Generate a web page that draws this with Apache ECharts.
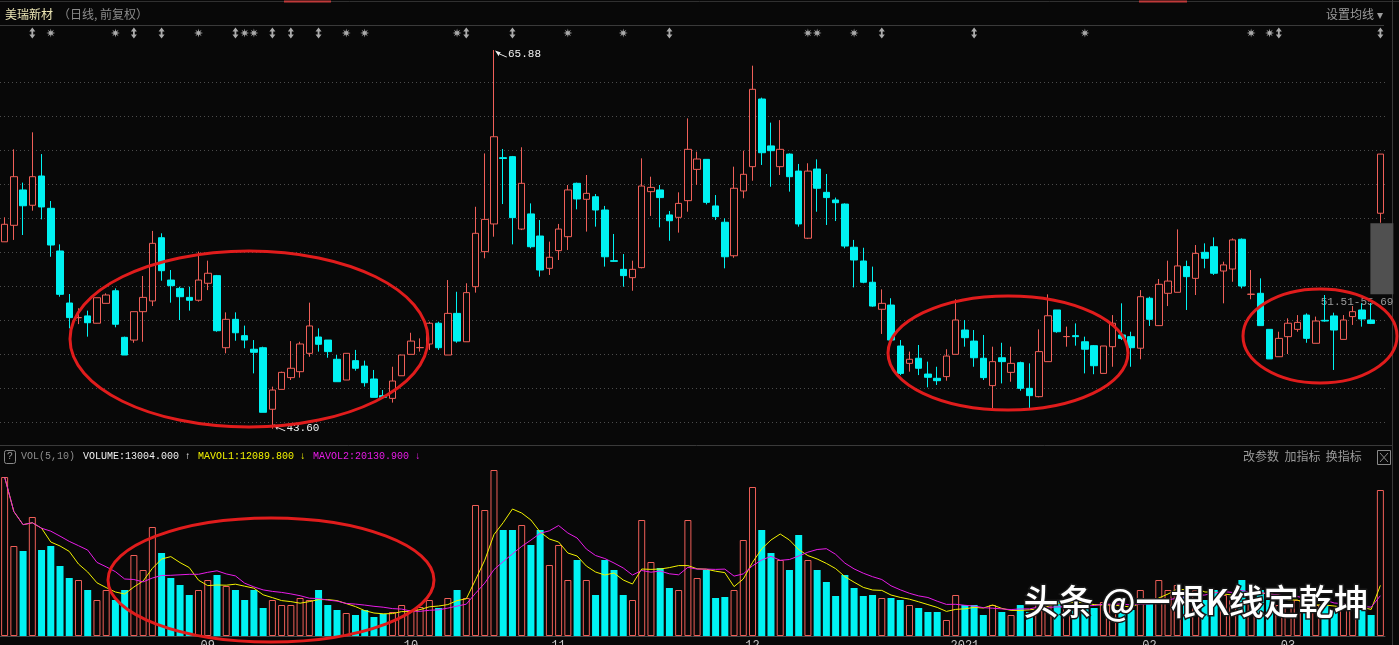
<!DOCTYPE html>
<html><head><meta charset="utf-8">
<script src="https://cdn.jsdelivr.net/npm/echarts@6/dist/echarts.min.js"></script>
<style>html,body{margin:0;padding:0;background:#080808;}#c{width:1399px;height:645px;}</style>
</head><body><div id="c"></div>
<script>
// ---- trading days (month -> day list) ----
const monthDays = [
  ['2020-07', '31'],
  ['2020-08', '03 04 05 06 07 10 11 12 13 14 17 18 19 20 21 24 25 26 27 28 31'],
  ['2020-09', '01 02 03 04 07 08 09 10 11 14 15 16 17 18 21 22 23 24 25 28 29 30'],
  ['2020-10', '09 12 13 14 15 16 19 20 21 22 23 26 27 28 29 30'],
  ['2020-11', '02 03 04 05 06 09 10 11 12 13 16 17 18 19 20 23 24 25 26 27 30'],
  ['2020-12', '01 02 03 04 07 08 09 10 11 14 15 16 17 18 21 22 23 24 25 28 29 30 31'],
  ['2021-01', '04 05 06 07 08 11 12 13 14 15 18 19 20 21 22 25 26 27 28 29'],
  ['2021-02', '01 02 03 04 05 08 09 10 18 19 22 23 24 25 26'],
  ['2021-03', '01 02 03 04 05 08 09 10 11 12 15']
];
const dates = [];
monthDays.forEach(([m, ds]) => ds.split(' ').forEach(d => dates.push(m + '-' + d)));

// ---- tick labels on the date axis ----
const tickLabels = {
  '2020-09-01': '09', '2020-10-09': '10', '2020-11-02': '11', '2020-12-01': '12',
  '2021-01-04': '2021', '2021-02-01': '02', '2021-03-01': '03'
};

// ---- OHLC ----
const opens = [
54.60,55.57,57.65,56.75,58.47,56.57,54.06,51.00,50.14,50.24,49.81,50.98,51.72,48.98,48.82,50.49,51.12,54.84,52.35,51.86,
51.33,51.16,52.16,52.61,48.37,50.04,49.08,48.28,48.37,44.75,45.92,46.61,46.96,48.04,49.00,48.82,47.69,46.47,47.61,47.29,
46.53,45.55,45.39,46.72,47.98,48.37,48.59,49.81,47.94,50.39,48.72,51.96,54.02,55.65,59.55,59.61,55.35,56.24,54.94,53.04,
54.08,54.90,58.04,57.10,57.25,56.47,53.49,52.98,52.49,53.08,57.55,57.65,56.18,56.04,57.02,58.86,59.45,56.71,55.75,53.78,
57.59,59.02,63.00,60.24,59.02,59.76,58.76,54.81,58.88,57.51,57.06,56.82,54.28,53.47,52.22,50.63,50.88,48.47,47.45,47.75,
46.82,46.57,46.67,47.98,49.41,48.76,47.75,46.14,47.78,46.92,47.49,45.98,45.49,47.55,50.59,49.02,49.08,48.72,48.49,46.86,
48.43,49.12,49.02,48.34,51.28,49.67,51.57,51.63,53.14,52.45,53.98,54.31,52.88,53.00,54.75,51.51,51.57,49.45,47.84,49.02,
49.45,50.29,48.63,49.98,50.24,48.86,50.20,50.59,50.00,56.28];
const closes = [
55.63,58.43,56.72,58.43,56.65,54.41,51.51,50.14,50.14,49.84,51.31,51.47,49.75,47.94,50.49,51.33,54.51,52.90,52.02,51.37,
51.16,52.35,52.75,49.37,50.04,49.25,48.82,48.10,44.57,45.88,46.92,47.16,48.59,49.65,48.57,48.14,46.37,48.04,47.16,46.31,
45.45,45.45,46.41,47.94,48.76,48.38,49.81,48.37,50.39,48.76,51.61,55.10,55.92,60.78,59.50,56.02,58.04,54.31,52.94,53.69,
55.35,57.65,57.12,57.45,56.47,53.72,53.45,52.61,52.98,57.88,57.80,57.20,55.84,56.86,60.04,59.47,56.92,56.08,53.72,57.75,
58.57,63.57,59.84,59.96,60.04,58.43,55.65,58.76,57.75,57.20,56.90,54.35,53.53,52.22,50.82,50.98,48.82,46.86,47.69,47.16,
46.63,46.43,47.88,50.00,48.96,47.78,46.61,47.55,47.55,47.45,45.98,45.55,48.14,50.25,49.31,49.03,49.02,48.28,47.31,48.47,
49.81,48.92,48.37,51.37,50.04,52.10,52.29,53.18,52.55,53.92,53.63,52.75,53.24,54.71,52.00,51.52,49.67,47.71,48.92,49.81,
49.86,48.92,49.94,49.94,49.41,50.00,50.49,50.06,49.80,59.76];
const lows = [
54.60,54.71,55.00,56.43,55.92,53.72,51.37,49.51,49.76,49.02,49.80,50.98,49.57,47.94,48.66,48.72,50.82,52.31,51.02,50.00,
50.55,51.08,51.76,49.31,48.04,48.78,48.34,46.86,44.57,43.60,45.92,46.47,46.61,47.84,48.14,47.78,46.37,46.47,47.02,46.08,
45.45,45.37,45.14,46.72,47.98,48.14,48.24,48.24,47.94,48.66,48.72,51.61,53.63,54.90,56.82,54.45,55.29,54.22,52.55,52.65,
53.53,54.12,56.51,55.20,55.49,53.14,53.43,51.96,51.72,53.04,56.12,55.45,54.66,55.14,56.37,57.94,56.80,55.88,53.04,53.66,
57.16,58.19,59.12,57.84,58.53,57.55,55.49,54.76,56.37,55.59,55.82,54.22,51.92,52.16,50.78,49.18,48.72,46.76,46.96,46.76,
46.04,46.18,46.43,47.98,48.43,47.25,46.47,44.67,46.27,46.37,45.84,44.71,45.45,47.55,49.25,48.43,48.49,46.86,46.81,46.86,
47.25,48.82,47.25,47.69,49.65,49.65,50.82,51.63,50.59,51.47,53.04,52.65,50.98,52.25,51.86,51.22,49.65,47.71,47.84,48.00,
49.31,48.66,48.63,49.90,47.06,48.86,49.71,49.61,49.76,55.72];
const highs = [
56.04,60.04,58.08,61.04,59.76,57.00,54.45,51.53,50.69,50.55,51.31,51.57,51.86,49.02,50.50,52.59,55.24,55.10,52.94,51.96,
51.96,54.02,53.49,52.65,50.45,50.45,49.67,48.82,48.43,46.08,46.96,48.76,48.72,51.02,49.51,48.82,47.94,48.04,48.24,47.61,
47.06,45.88,47.25,47.94,49.25,48.92,49.90,49.90,52.35,51.66,52.16,56.66,59.80,65.88,60.06,59.65,60.16,56.86,55.88,54.61,
55.65,57.94,58.08,58.53,57.41,56.71,55.06,53.88,53.49,59.51,58.43,57.94,56.41,57.51,61.86,59.90,59.45,57.35,55.98,59.02,
59.96,64.96,63.08,61.61,61.76,59.80,59.18,59.22,59.45,58.59,57.20,56.86,54.71,54.25,53.14,51.80,51.28,48.82,48.14,48.53,
47.55,47.25,48.28,51.22,50.00,49.41,49.12,48.43,48.66,48.43,47.55,47.45,49.45,51.51,50.59,49.61,49.80,49.02,48.53,48.47,
50.29,50.98,49.31,51.76,51.37,52.41,53.49,55.33,53.49,54.41,54.51,54.86,53.43,54.80,54.80,52.94,52.45,49.45,49.31,50.10,
50.29,50.39,50.20,51.47,50.43,50.29,50.82,50.98,51.00,59.76];

// ---- volume (万股) ----
const volumes = [
1113,630,595,833,602,630,490,406,392,322,252,322,252,322,567,462,763,581,406,357,
287,322,392,427,350,322,252,322,196,252,217,217,266,252,322,217,182,161,147,182,
133,154,168,217,182,203,252,196,266,322,266,917,882,1162,742,742,777,637,742,497,
637,392,532,392,287,532,462,287,252,812,518,476,336,322,812,406,462,266,273,322,
672,1043,742,581,532,462,707,532,462,378,280,427,336,280,287,266,266,252,217,196,
168,168,112,287,217,217,147,217,168,147,217,168,252,252,252,217,217,217,196,238,
217,182,182,322,252,392,322,357,287,322,252,322,287,252,392,252,322,252,217,217,
252,182,217,217,182,203,217,182,147,1022];

// ---- info markers (candle indices) ----
const starIdx = [5,12,21,26,27,37,39,49,61,67,87,88,92,117,135,137];
const arrowIdx = [3,14,17,25,29,31,34,50,55,72,95,105,138,149];

// ---- highlighted price range ----
const rangeLow = 51.51, rangeHigh = 55.69;

// ---- header texts ----
const volHeader = {vol: 'VOLUME:13004.000', ma1: 'MAVOL1:12089.800', ma2: 'MAVOL2:20130.900'};

const RED = '#ef5f58', CYAN = '#00f2f2';
const MONO = '"Liberation Mono","DejaVu Sans Mono",monospace';
const CJK = '"Noto Sans CJK SC","Noto Sans",sans-serif';

const isUp = i => closes[i] > opens[i] || (closes[i] === opens[i] && (i === 0 || closes[i - 1] <= closes[i]));
const candleData = opens.map((o, i) => [o, closes[i], lows[i], highs[i]]);
const volData = volumes.map((v, i) => ({
  value: v,
  itemStyle: isUp(i) ? {color: '#080808', borderColor: RED, borderWidth: 1} : {color: CYAN, borderWidth: 0}
}));
function ma(n) {
  return volumes.map((v, i) => {
    const s = Math.max(0, i - n + 1);
    let sum = 0;
    for (let k = s; k <= i; k++) sum += volumes[k];
    return +(sum / (i - s + 1)).toFixed(2);
  });
}
function starPath() {
  const pts = [];
  for (let k = 0; k < 16; k++) {
    const r = k % 2 ? 1.9 : 5, a = k * Math.PI / 8;
    pts.push((5 + r * Math.cos(a)).toFixed(2) + ',' + (5 + r * Math.sin(a)).toFixed(2));
  }
  return 'path://M' + pts.join(' L') + ' Z';
}
const ARROW = 'path://M5,0 L10,5 L6.5,5 L6.5,9 L10,9 L5,14 L0,9 L3.5,9 L3.5,5 L0,5 Z';

const chart = echarts.init(document.getElementById('c'), null, {renderer: 'canvas'});
const gridL = 0, gridR = 14;
chart.setOption({
  backgroundColor: '#080808',
  animation: false,
  grid: [
    {left: gridL, right: gridR, top: 48, height: 408, outerBoundsMode: 'none', containLabel: false},
    {left: gridL, right: gridR, top: 26, height: 14, outerBoundsMode: 'none', containLabel: false},
    {left: gridL, right: gridR, top: 468, height: 168, outerBoundsMode: 'none', containLabel: false}
  ],
  xAxis: [
    {type: 'category', gridIndex: 0, data: dates, boundaryGap: true, show: false},
    {type: 'category', gridIndex: 1, data: dates, boundaryGap: true, show: false},
    {type: 'category', gridIndex: 2, data: dates, boundaryGap: true,
     axisLine: {show: true, lineStyle: {color: '#4a4a4a'}}, axisTick: {show: false},
     axisLabel: {
       interval: (idx, val) => tickLabels[val] !== undefined,
       formatter: val => tickLabels[val] || '',
       color: '#c8c8c8', fontSize: 12, margin: 4, fontFamily: MONO
     },
     splitLine: {show: false}}
  ],
  yAxis: [
    {type: 'value', gridIndex: 0, min: 42, max: 66, interval: 2, scale: true,
     axisLabel: {show: false}, axisLine: {show: false}, axisTick: {show: false},
     splitLine: {show: true, showMinLine: false, showMaxLine: false,
                 lineStyle: {color: '#4c4c4c', type: [1, 3], width: 1}}},
    {type: 'value', gridIndex: 1, min: 0, max: 1, show: false},
    {type: 'value', gridIndex: 2, min: 0, max: 1176, show: false}
  ],
  series: [
    {
      type: 'custom', xAxisIndex: 0, yAxisIndex: 0, z: 1,
      data: [[dates.length - 1, rangeLow, rangeHigh]],
      renderItem: (params, api) => {
        const top = api.coord([api.value(0), api.value(2)]);
        const bot = api.coord([api.value(0), api.value(1)]);
        const x0 = top[0] - 10, x1 = top[0] + 13;
        return {type: 'group', children: [
          {type: 'rect', shape: {x: x0, y: top[1], width: x1 - x0, height: bot[1] - top[1]}, style: {fill: '#505050'}},
          {type: 'text', style: {text: api.value(1).toFixed(2) + '-' + api.value(2).toFixed(2), x: x1, y: bot[1] + 8,
            align: 'right', verticalAlign: 'middle', fill: '#9a9a9a', font: '11px ' + MONO}}
        ]};
      }
    },
    {
      type: 'candlestick', xAxisIndex: 0, yAxisIndex: 0, z: 3,
      data: candleData, barWidth: 7,
      itemStyle: {color: '#080808', color0: CYAN, borderColor: RED, borderColor0: CYAN, borderWidth: 1},
      markPoint: {
        symbol: 'path://M0,0 L6,2 L4.6,3 L12,6.2 L11.6,7 L4.2,3.8 L3.8,5.6 Z',
        symbolSize: [12, 7],
        itemStyle: {color: '#f0f0f0'},
        label: {show: true, position: 'right', distance: 1, color: '#f0f0f0', fontSize: 11, fontFamily: MONO,
                formatter: p => p.value.toFixed(2)},
        data: [
          {type: 'max', valueDim: 'highest', symbolOffset: [7, 4]},
          {type: 'min', valueDim: 'lowest', symbolOffset: [7, -1]}
        ]
      }
    },
    {
      type: 'scatter', xAxisIndex: 1, yAxisIndex: 1, symbol: starPath(), symbolSize: [9, 9],
      itemStyle: {color: '#d4d4d4'}, data: starIdx.map(i => [i, 0.5])
    },
    {
      type: 'scatter', xAxisIndex: 1, yAxisIndex: 1, symbol: ARROW, symbolSize: [6, 11],
      itemStyle: {color: '#d4d4d4'}, data: arrowIdx.map(i => [i, 0.5])
    },
    {
      type: 'bar', xAxisIndex: 2, yAxisIndex: 2, barWidth: 7, data: volData
    },
    {
      type: 'line', xAxisIndex: 2, yAxisIndex: 2, data: ma(5), showSymbol: false, smooth: false,
      lineStyle: {color: '#f2f200', width: 1}, z: 5
    },
    {
      type: 'line', xAxisIndex: 2, yAxisIndex: 2, data: ma(10), showSymbol: false, smooth: false,
      lineStyle: {color: '#e81ce8', width: 1}, z: 5
    }
  ],
  graphic: [
    // top tab strip
    {type: 'line', shape: {x1: 0, y1: 1.5, x2: 1399, y2: 1.5}, style: {stroke: '#303030', lineWidth: 1}},
    {type: 'line', shape: {x1: 284, y1: 1.5, x2: 331, y2: 1.5}, style: {stroke: '#c03a3a', lineWidth: 2}},
    {type: 'line', shape: {x1: 1139, y1: 1.5, x2: 1187, y2: 1.5}, style: {stroke: '#c03a3a', lineWidth: 2}},
    // title row
    {type: 'text', left: 5, top: 8, style: {text: '美瑞新材', fill: '#ece6b4', font: '12px ' + CJK}},
    {type: 'text', left: 58, top: 8, style: {text: '（日线, 前复权）', fill: '#8c8c8c', font: '12px ' + CJK}},
    {type: 'text', left: 1326, top: 8, style: {text: '设置均线 ▾', fill: '#9c9c9c', font: '12px ' + CJK}},
    {type: 'line', shape: {x1: 0, y1: 25.5, x2: 1384, y2: 25.5}, style: {stroke: '#3a3a3a', lineWidth: 1}},
    {type: 'line', shape: {x1: 1392.5, y1: 0, x2: 1392.5, y2: 645}, style: {stroke: '#3a3a3a', lineWidth: 1}},
    // volume panel header
    {type: 'line', shape: {x1: 0, y1: 445.5, x2: 1393, y2: 445.5}, style: {stroke: '#3a3a3a', lineWidth: 1}},
    {type: 'rect', shape: {x: 4.5, y: 450.5, width: 11, height: 13, r: 2}, style: {fill: 'none', stroke: '#8a8a8a', lineWidth: 1}},
    {type: 'text', left: 7, top: 451, style: {text: '?', fill: '#a0a0a0', font: '10px ' + MONO}},
    {type: 'text', left: 21, top: 451, style: {text: 'VOL(5,10)', fill: '#8e8e8e', font: '10px ' + MONO}},
    {type: 'text', left: 83, top: 451, style: {text: volHeader.vol + ' ↑', fill: '#f0f0f0', font: '10px ' + MONO}},
    {type: 'text', left: 198, top: 451, style: {text: volHeader.ma1 + ' ↓', fill: '#f2f200', font: '10px ' + MONO}},
    {type: 'text', left: 313, top: 451, style: {text: volHeader.ma2 + ' ↓', fill: '#e81ce8', font: '10px ' + MONO}},
    {type: 'text', left: 1243, top: 450, style: {text: '改参数  加指标  换指标', fill: '#9a9a9a', font: '12px ' + CJK}},
    {type: 'rect', shape: {x: 1377.5, y: 450.5, width: 13, height: 14}, style: {fill: 'none', stroke: '#8a8a8a', lineWidth: 1}},
    {type: 'line', shape: {x1: 1380, y1: 453, x2: 1388, y2: 462}, style: {stroke: '#8a8a8a', lineWidth: 1}},
    {type: 'line', shape: {x1: 1388, y1: 453, x2: 1380, y2: 462}, style: {stroke: '#8a8a8a', lineWidth: 1}},
    // red annotation ellipses
    {type: 'ellipse', shape: {cx: 249, cy: 339, rx: 179, ry: 88}, style: {fill: null, stroke: '#e01c1c', lineWidth: 3}, z: 100},
    {type: 'ellipse', shape: {cx: 1008, cy: 353, rx: 120, ry: 57}, style: {fill: null, stroke: '#e01c1c', lineWidth: 3}, z: 100},
    {type: 'ellipse', shape: {cx: 1320, cy: 336, rx: 77, ry: 47}, style: {fill: null, stroke: '#e01c1c', lineWidth: 3}, z: 100},
    {type: 'ellipse', shape: {cx: 271, cy: 580, rx: 163, ry: 62}, style: {fill: null, stroke: '#e01c1c', lineWidth: 3}, z: 100},
    // watermark
    {type: 'text', left: 1022, top: 583, z: 120,
     style: {text: '头条 @一根K线定乾坤', fill: '#ffffff', stroke: '#1a1a1a', lineWidth: 3,
             font: '500 35px ' + CJK}}
  ]
});
</script>
</body></html>
